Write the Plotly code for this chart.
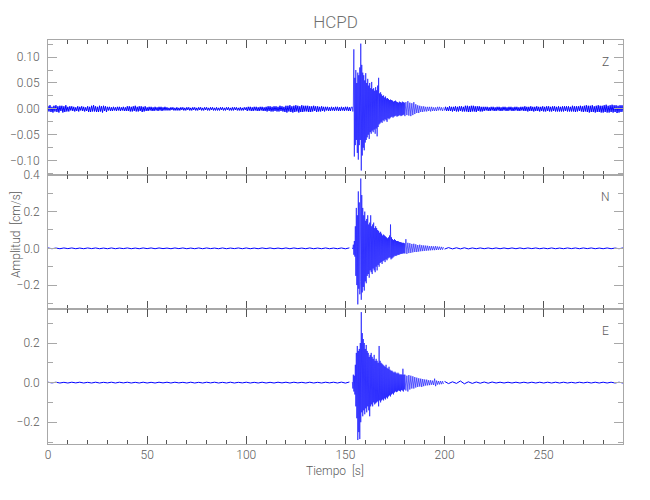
import numpy as np
import plotly.graph_objects as go
from plotly.subplots import make_subplots

# ---------------- data ----------------
TITLE = "HCPD"
CHANNELS = ["Z", "N", "E"]

# sample-time segments: (start [s], step [s])
SEG_PRE_Z = (0.0, 0.5)
SEG_PRE_NE = (0.0, 2.0)
SEG_BURST = (153.5, 0.25)
SEG_CODA = (180.0, 0.5)
SEG_POST_Z = (200.0, 0.5)
SEG_POST_NE = (200.0, 2.0)

# Z quiet parts, in units of 1e-3 cm/s
Z_PRE_E3 = [
    6, -5, 7, -6, 4, -7, 6, -5, 7, -6, 5, -7, 6, -4, 6, -7, 5, -6, 7, -5,
    4, -5, 5, -3, 5, -4, 4, -5, 3, -4, 5, -5, 4, -3, 5, -4, 4, -5, 3, -4,
    5, -6, 4, -6, 6, -5, 7, -5, 5, -6, 4, -6, 6, -5, 5, -7, 6, -4, 5, -6,
    4, -3, 4, -4, 3, -4, 4, -3, 3, -4, 4, -3, 4, -4, 3, -3, 4, -4, 3, -4,
    5, -4, 5, -5, 4, -5, 5, -4, 6, -5, 4, -5, 5, -4, 5, -6, 4, -5, 5, -4,
    3, -4, 4, -3, 4, -4, 3, -4, 4, -3, 3, -4, 4, -3, 4, -4, 3, -3, 4, -3,
    3, -3, 2, -3, 3, -2, 3, -3, 2, -3, 3, -3, 2, -3, 3, -2, 3, -3, 2, -3,
    3, -2, 3, -3, 2, -3, 3, -2, 3, -3, 2, -3, 3, -2, 3, -3, 2, -3, 3, -2,
    3, -3, 2, -3, 3, -2, 3, -3, 2, -3, 3, -3, 2, -3, 3, -2, 3, -3, 2, -3,
    3, -2, 3, -3, 2, -3, 3, -3, 3, -2, 3, -3, 2, -3, 3, -3, 2, -3, 3, -2,
    3, -4, 4, -3, 4, -4, 3, -4, 4, -3, 4, -4, 3, -4, 4, -3, 4, -4, 3, -4,
    4, -5, 5, -4, 5, -5, 4, -5, 5, -4, 5, -5, 4, -5, 6, -4, 5, -5, 4, -6,
    6, -7, 6, -5, 7, -6, 5, -7, 6, -6, 7, -5, 6, -7, 5, -6, 7, -6, 6, -5,
    6, -5, 6, -6, 5, -6, 5, -5, 6, -4, 5, -6, 5, -5, 4, -5, 5, -4, 4, -5,
    4, -3, 4, -4, 3, -4, 4, -3, 3, -4, 4, -3, 4, -4, 3, -4, 4, -3, 3, -4,
    4, -3, 4, -4, 3, -4, 4,
]
Z_POST_E3 = [
    -3, 4, -4, 3, -4, 5, -4, 4, -5, 4, -4, 5, -5, 4, -5, 5, -4, 5, -5, 4,
    -5, 6, -5, 6, -6, 5, -6, 6, -5, 6, -5, 5, -6, 5, -4, 5, -5, 4, -5, 4,
    -4, 4, -3, 4, -4, 3, -4, 4, -3, 4, -4, 3, -4, 4, -3, 4, -4, 3, -4, 4,
    -3, 4, -4, 3, -4, 4, -3, 4, -4, 3, -4, 4, -3, 4, -4, 3, -4, 4, -3, 4,
    -4, 5, -4, 4, -5, 4, -4, 5, -4, 4, -5, 4, -4, 5, -4, 4, -5, 4, -4, 5,
    -5, 4, -5, 5, -4, 5, -5, 4, -5, 5, -4, 5, -5, 4, -5, 5, -5, 4, -5, 5,
    -5, 5, -4, 5, -5, 5, -5, 4, -5, 6, -5, 5, -6, 5, -5, 5, -4, 6, -5, 5,
    -6, 6, -5, 7, -6, 6, -7, 6, -6, 7, -6, 5, -7, 6, -6, 7, -6, 6, -7, 6,
    -7, 7, -6, 8, -7, 6, -7, 7, -6, 8, -7, 7, -6, 7, -8, 6, -7, 7, -6, 7,
    -6,
]
Z_BURST = [
    0.004, -0.005, 0.006, 0.115, -0.092, 0.060, -0.070, 0.075, -0.060, 0.050,
    -0.085, 0.070, -0.098, 0.065, -0.070, 0.080, -0.060, 0.126, -0.119, 0.085,
    -0.090, 0.070, -0.075, 0.065, -0.080, 0.055, -0.065, 0.069, -0.060, 0.050,
    -0.055, 0.058, -0.050, 0.045, -0.058, 0.050, -0.045, 0.040, -0.048, 0.052,
    -0.042, 0.038, -0.045, 0.040, -0.040, 0.035, -0.048, 0.042, -0.038, 0.036,
    -0.053, 0.045, -0.035, 0.060, -0.030, 0.030, -0.028, 0.032, -0.025, 0.028,
    -0.027, 0.025, -0.022, 0.026, -0.024, 0.022, -0.020, 0.024, -0.022, 0.020,
    -0.025, 0.021, -0.018, 0.019, -0.020, 0.017, -0.018, 0.018, -0.016, 0.017,
    -0.015, 0.016, -0.017, 0.014, -0.015, 0.015, -0.014, 0.016, -0.013, 0.014,
    -0.015, 0.013, -0.014, 0.012, -0.013, 0.014, -0.012, 0.013, -0.014, 0.012,
    -0.013, 0.014, -0.012, 0.013, -0.011, 0.012,
]
Z_CODA = [
    -0.014, 0.013, -0.012, 0.015, -0.013, 0.012, -0.014, 0.011, -0.012, 0.013,
    -0.010, 0.009, -0.008, 0.007, -0.008, 0.006, -0.006, 0.005, -0.006, 0.005,
    -0.005, 0.004, -0.005, 0.004, -0.004, 0.004, -0.005, 0.004, -0.004, 0.003,
    -0.004, 0.003, -0.004, 0.004, -0.003, 0.004, -0.003, 0.003, -0.004, 0.003,
]

N_PRE = [
    0.002, -0.002, 0.0015, -0.002, 0.002, -0.0015, 0.002, -0.002, 0.0015, -0.002,
    0.002, -0.0015, 0.002, -0.002, 0.0015, -0.002, 0.002, -0.002, 0.0015, -0.0015,
    0.002, -0.002, 0.0015, -0.002, 0.002, -0.0015, 0.002, -0.002, 0.002, -0.0015,
    0.0015, -0.002, 0.002, -0.0015, 0.002, -0.002, 0.0015, -0.002, 0.002, -0.002,
    0.002, -0.0015, 0.0015, -0.002, 0.002, -0.002, 0.0015, -0.0015, 0.002, -0.002,
    0.002, -0.002, 0.0015, -0.002, 0.002, -0.0015, 0.002, -0.002, 0.0015, -0.002,
    0.002, -0.002, 0.002, -0.0015, 0.0015, -0.002, 0.002, -0.002, 0.0015, -0.002,
    0.002, -0.002, 0.0015, -0.002, 0.002, -0.0025, 0.0025,
]
N_BURST = [
    0.003, -0.004, 0.020, -0.035, 0.040, -0.045, 0.120, -0.150, 0.220, -0.200,
    0.180, -0.305, 0.310, -0.220, 0.250, -0.250, -0.180, 0.380, -0.280, 0.290,
    -0.240, 0.220, -0.210, 0.180, -0.230, 0.200, -0.180, 0.150, -0.190, 0.160,
    -0.150, 0.180, -0.140, 0.130, -0.160, 0.140, -0.120, 0.180, -0.130, 0.120,
    -0.140, 0.130, -0.110, 0.140, -0.120, 0.110, -0.130, 0.120, -0.100, 0.110,
    -0.120, 0.100, -0.090, 0.095, -0.100, 0.085, -0.080, 0.090, -0.075, 0.080,
    -0.085, 0.070, -0.070, 0.075, -0.065, 0.070, -0.075, 0.065, -0.060, 0.060,
    -0.065, 0.055, -0.055, 0.060, -0.050, 0.070, -0.050, 0.130, -0.060, 0.060,
    -0.055, 0.050, -0.050, 0.045, -0.045, 0.050, -0.040, 0.045, -0.042, 0.040,
    -0.038, 0.040, -0.035, 0.038, -0.036, 0.035, -0.032, 0.034, -0.030, 0.032,
    -0.030, 0.030, -0.028, 0.030, -0.027, 0.028,
]
N_CODA = [
    -0.028, 0.050, -0.030, 0.030, -0.026, 0.028, -0.025, 0.024, -0.022, 0.025,
    -0.020, 0.022, -0.020, 0.018, -0.018, 0.020, -0.016, 0.017, -0.015, 0.016,
    -0.014, 0.015, -0.013, 0.014, -0.012, 0.012, -0.011, 0.012, -0.010, 0.011,
    -0.010, 0.012, -0.009, 0.010, -0.008, 0.009, -0.008, 0.008, -0.007, 0.007,
]
N_POST = [
    -0.004, 0.004, -0.003, 0.003, -0.003, 0.003, -0.003, 0.002, -0.002, 0.002,
    -0.002, 0.002, -0.002, 0.002, -0.002, 0.002, -0.002, 0.002, -0.002, 0.002,
    -0.002, 0.002, -0.0015, 0.002, -0.002, 0.0015, -0.002, 0.002, -0.002, 0.0015,
    -0.002, 0.002, -0.0015, 0.002, -0.002, 0.002, -0.0015, 0.002, -0.002, 0.0015,
    -0.002, 0.002, -0.002, 0.0015, -0.002, 0.002,
]

E_PRE = [
    0.002, -0.0015, 0.002, -0.002, 0.0015, -0.002, 0.002, -0.0015, 0.002, -0.002,
    0.0015, -0.002, 0.002, -0.002, 0.0015, -0.0015, 0.002, -0.002, 0.002, -0.0015,
    0.002, -0.002, 0.0015, -0.002, 0.002, -0.002, 0.0015, -0.002, 0.002, -0.0015,
    0.002, -0.002, 0.002, -0.0015, 0.0015, -0.002, 0.002, -0.002, 0.0015, -0.002,
    0.002, -0.0015, 0.002, -0.002, 0.0015, -0.002, 0.002, -0.002, 0.0015, -0.0015,
    0.002, -0.002, 0.0015, -0.002, 0.002, -0.002, 0.0015, -0.002, 0.002, -0.0015,
    0.002, -0.002, 0.002, -0.0015, 0.0015, -0.002, 0.002, -0.002, 0.0015, -0.002,
    0.002, -0.0015, 0.002, -0.002, 0.0025, -0.0025, 0.003,
]
E_BURST = [
    0.003, -0.030, 0.040, -0.045, 0.035, -0.060, 0.090, -0.120, 0.150, -0.180,
    0.185, -0.290, 0.160, -0.250, 0.170, -0.285, 0.200, -0.200, 0.356, -0.150,
    0.250, -0.170, 0.220, -0.140, 0.200, -0.160, 0.170, -0.130, 0.190, -0.150,
    0.160, -0.120, 0.150, -0.140, 0.130, -0.170, 0.140, -0.120, 0.150, -0.110,
    0.130, -0.120, 0.120, -0.100, 0.140, -0.110, 0.110, -0.105, 0.120, -0.100,
    0.110, -0.095, 0.100, -0.120, 0.185, -0.090, 0.110, -0.100, 0.100, -0.090,
    0.095, -0.085, 0.090, -0.090, 0.085, -0.080, 0.080, -0.085, 0.090, -0.075,
    0.075, -0.080, 0.070, -0.070, 0.080, -0.065, 0.065, -0.070, 0.060, -0.060,
    0.060, -0.055, 0.055, -0.060, 0.050, -0.050, 0.055, -0.045, 0.050, -0.048,
    0.045, -0.045, 0.050, -0.040, 0.045, -0.042, 0.040, -0.045, 0.042, -0.038,
    0.040, -0.040, 0.070, -0.045, 0.040, -0.035,
]
E_CODA = [
    0.040, -0.040, 0.035, -0.045, 0.038, -0.035, 0.035, -0.030, 0.032, -0.030,
    0.028, -0.025, 0.025, -0.022, 0.022, -0.020, 0.020, -0.022, 0.018, -0.018,
    0.016, -0.015, 0.015, -0.014, 0.012, -0.013, 0.012, -0.011, 0.010, -0.012,
    0.020, -0.018, 0.010, -0.010, 0.008, -0.009, 0.008, -0.008, 0.007, -0.007,
]
E_POST = [
    0.006, -0.005, 0.004, -0.004, 0.008, -0.006, 0.004, -0.004, 0.003, -0.003,
    0.003, -0.003, 0.003, -0.002, 0.002, -0.002, 0.002, -0.002, 0.002, -0.002,
    0.002, -0.002, 0.002, -0.002, 0.002, -0.002, 0.002, -0.002, 0.002, -0.002,
    0.002, -0.002, 0.0015, -0.002, 0.002, -0.0015, 0.002, -0.002, 0.002, -0.002,
    0.002, -0.002, 0.002, -0.002, 0.002, -0.002,
]

X_RANGE = [0, 290]
Y_RANGES = [[-0.127, 0.133], [-0.332, 0.401], [-0.31, 0.37]]
Y_DTICK = [0.05, 0.2, 0.2]
Y_MINOR = [0.025, 0.1, 0.1]
Y_FMT = [".2f", ".1f", ".1f"]

Z_PRE = [v * 1e-3 for v in Z_PRE_E3]
Z_POST = [v * 1e-3 for v in Z_POST_E3]


def build(segments):
    ts, vs = [], []
    for (t0, dt), vals in segments:
        ts.append(t0 + dt * np.arange(len(vals)))
        vs.append(np.asarray(vals, dtype=float))
    return np.concatenate(ts), np.concatenate(vs)


# each channel: quiet-before, strong-motion (burst + coda), quiet-after
SERIES = [
    [build([(SEG_PRE_Z, Z_PRE)]), build([(SEG_BURST, Z_BURST), (SEG_CODA, Z_CODA)]), build([(SEG_POST_Z, Z_POST)])],
    [build([(SEG_PRE_NE, N_PRE)]), build([(SEG_BURST, N_BURST), (SEG_CODA, N_CODA)]), build([(SEG_POST_NE, N_POST)])],
    [build([(SEG_PRE_NE, E_PRE)]), build([(SEG_BURST, E_BURST), (SEG_CODA, E_CODA)]), build([(SEG_POST_NE, E_POST)])],
]
WIDTHS = [1.0, 0.6, 1.0]

# ---------------- figure ----------------
FONT = "Roboto, Liberation Sans, sans-serif"
TXT = "#5a5a5a"
AX = "#a8a8a8"

fig = make_subplots(rows=3, cols=1, shared_xaxes=True, vertical_spacing=0)

for i, parts in enumerate(SERIES):
    r = i + 1
    for (t, v), w in zip(parts, WIDTHS):
        fig.add_trace(
            go.Scatter(x=t, y=v, mode="lines", line=dict(color="#0000ff", width=w),
                       showlegend=False, hoverinfo="skip"),
            row=r, col=1,
        )
    fig.update_yaxes(
        range=Y_RANGES[i], dtick=Y_DTICK[i], tick0=0, tickformat=Y_FMT[i],
        showgrid=False, zeroline=False, showline=True, linecolor=AX, linewidth=1,
        mirror="ticks", ticks="inside", ticklen=9, tickwidth=1, tickcolor=AX,
        minor=dict(dtick=Y_MINOR[i], tick0=0, ticks="inside", ticklen=5, tickcolor=AX),
        tickfont=dict(family=FONT, size=12, color=TXT, weight=300),
        ticklabelstandoff=5, automargin=False,
        row=r, col=1,
    )
    fig.update_xaxes(
        range=X_RANGE, dtick=50, tick0=0,
        showgrid=False, zeroline=False, showline=True, linecolor=AX, linewidth=1,
        mirror="ticks", ticks="inside", ticklen=8, tickwidth=1, tickcolor="#555555",
        minor=dict(dtick=10, tick0=0, ticks="inside", ticklen=4, tickcolor="#555555"),
        tickfont=dict(family=FONT, size=12, color=TXT, weight=300),
        showticklabels=(r == 3), automargin=False,
        row=r, col=1,
    )
    fig.add_annotation(
        text=CHANNELS[i], xref=f"x{'' if r == 1 else r} domain", yref=f"y{'' if r == 1 else r} domain",
        x=0.970, y=0.837, showarrow=False, xanchor="center", yanchor="middle",
        font=dict(family=FONT, size=12, color=TXT, weight=300),
    )

fig.add_annotation(
    text="Amplitud  [cm/s]", xref="paper", yref="paper", x=-0.0557, y=0.52,
    textangle=-90, showarrow=False, xanchor="center", yanchor="middle",
    font=dict(family=FONT, size=12, color=TXT, weight=300),
)
fig.add_annotation(
    text="Tiempo  [s]", xref="paper", yref="paper", x=0.499, y=-0.067,
    showarrow=False, xanchor="center", yanchor="middle",
    font=dict(family=FONT, size=12, color=TXT, weight=300),
)

# the page body adds an 8 px offset, so the figure is 8 px smaller than the window
fig.update_layout(
    width=642, height=492,
    margin=dict(l=40, r=27, t=32, b=56),
    paper_bgcolor="white", plot_bgcolor="white",
    title=dict(text=TITLE, x=(40 + 575 * 0.5) / 642, xanchor="center",
               y=1 - 14 / 492, yanchor="middle",
               font=dict(family=FONT, size=17, color="#707070", weight=300)),
)

fig.write_html("out.html")
